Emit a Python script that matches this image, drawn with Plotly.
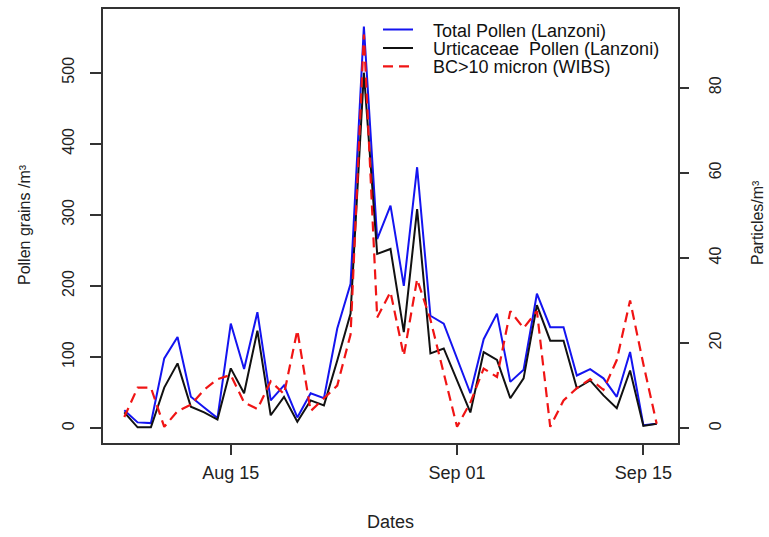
import plotly.graph_objects as go

# ---- data ----
dates = ["2015-08-07", "2015-08-08", "2015-08-09", "2015-08-10", "2015-08-11", "2015-08-12",
         "2015-08-13", "2015-08-14", "2015-08-15", "2015-08-16", "2015-08-17", "2015-08-18",
         "2015-08-19", "2015-08-20", "2015-08-21", "2015-08-22", "2015-08-23", "2015-08-24",
         "2015-08-25", "2015-08-26", "2015-08-27", "2015-08-28", "2015-08-29", "2015-08-30",
         "2015-08-31", "2015-09-01", "2015-09-02", "2015-09-03", "2015-09-04", "2015-09-05",
         "2015-09-06", "2015-09-07", "2015-09-08", "2015-09-09", "2015-09-10", "2015-09-11",
         "2015-09-12", "2015-09-13", "2015-09-14", "2015-09-15", "2015-09-16"]

total_pollen = [25, 8, 7, 98, 128, 44, 29, 14, 147, 83, 163, 39, 60, 15, 49, 42, 140, 203,
                565, 266, 313, 200, 367, 158, 147, 98, 49, 125, 161, 65, 82, 189, 142, 142,
                74, 83, 70, 44, 107, 4, 6]

urticaceae_pollen = [22, 1, 1, 57, 91, 30, 22, 12, 84, 49, 137, 18, 44, 9, 39, 32, 95, 161,
                     500, 245, 252, 135, 308, 105, 112, 67, 22, 107, 96, 42, 70, 173, 123, 123,
                     56, 67, 46, 28, 81, 3, 6]

bc_wibs = [2.6, 9.5, 9.5, 0.3, 4, 5.5, 9, 11.5, 12.5, 6, 4.5, 11, 8, 23, 4, 7, 10, 22,
           92.5, 26, 32, 17, 35, 25.5, 13, 0.3, 6, 14, 12, 27.5, 23.5, 27.5, 0.3, 6.5,
           9.4, 11.5, 9, 16, 30, 15, 1]

names = ["Total Pollen (Lanzoni)", "Urticaceae\u00a0 Pollen (Lanzoni)", "BC>10 micron (WIBS)"]

x_tickvals = ["2015-08-15", "2015-09-01", "2015-09-15"]
x_ticktext = ["Aug 15", "Sep 01", "Sep 15"]
y_left_ticks = [0, 100, 200, 300, 400, 500]
y_right_ticks = [0, 20, 40, 60, 80]

# ---- figure ----
FONT = "Liberation Sans, Arial, sans-serif"
W, H = 769, 537
ML, MR, MT, MB = 103, 91, 7, 94
pw, ph = W - ML - MR, H - MT - MB

def px_x(p):
    return (p - ML) / pw

def px_y(p):
    return (H - MB - p) / ph

PAD = "\u00a0\u00a0\u00a0"

fig = go.Figure()
fig.add_trace(go.Scatter(x=dates, y=total_pollen, mode="lines", name=PAD + names[0],
                         line=dict(color="#1414f0", width=2), legend="legend"))
fig.add_trace(go.Scatter(x=dates, y=urticaceae_pollen, mode="lines", name=PAD + names[1],
                         line=dict(color="#111111", width=2), legend="legend2"))
fig.add_trace(go.Scatter(x=dates, y=bc_wibs, mode="lines", name=PAD + names[2], yaxis="y2",
                         line=dict(color="#f01414", width=2.2, dash="10px,6px"),
                         legend="legend3"))

leg_common = dict(x=px_x(378), xanchor="left", yanchor="middle", bgcolor="rgba(0,0,0,0)",
                  borderwidth=0, font=dict(family=FONT, size=18, color="#111"),
                  itemwidth=30)

hfont = dict(family=FONT, size=18, color="#222")   # horizontal texts
vfont = dict(family=FONT, size=16, color="#222")   # rotated texts

fig.update_layout(
    width=W, height=H,
    margin=dict(l=ML, r=MR, t=MT, b=MB),
    paper_bgcolor="white", plot_bgcolor="white",
    showlegend=True,
    legend=dict(y=px_y(28), **leg_common),
    legend2=dict(y=px_y(46.5), **leg_common),
    legend3=dict(y=px_y(65), **leg_common),
    xaxis=dict(type="date",
               range=["2015-08-05 09:36", "2015-09-17 14:24"],
               tickmode="array", tickvals=x_tickvals, ticktext=x_ticktext,
               ticks="outside", ticklen=10, tickwidth=1.5, tickcolor="#333",
               showline=True, linecolor="#333", linewidth=1.5, mirror=True,
               showgrid=False, zeroline=False, tickfont=hfont,
               ticklabelstandoff=3),
    yaxis=dict(range=[-21, 589.6], tickmode="array", tickvals=y_left_ticks,
               ticks="outside", ticklen=11, tickwidth=1.5, tickcolor="#333",
               showline=True, linecolor="#333", linewidth=1.5, mirror=True,
               showgrid=False, zeroline=False, tickangle=-90, tickfont=vfont,
               ticklabelstandoff=10),
    yaxis2=dict(range=[-3.5, 98.5], tickmode="array", tickvals=y_right_ticks,
                overlaying="y", side="right",
                ticks="outside", ticklen=10, tickwidth=1.5, tickcolor="#333",
                showline=False, showgrid=False, zeroline=False, tickangle=-90,
                tickfont=vfont, ticklabelstandoff=13),
    annotations=[
        dict(text="Pollen grains /m³", xref="paper", yref="paper", x=px_x(24),
             y=px_y(224), textangle=-90, showarrow=False, font=vfont,
             xanchor="center", yanchor="middle"),
        dict(text="Particles/m³", xref="paper", yref="paper", x=px_x(757),
             y=px_y(222), textangle=-90, showarrow=False, font=vfont,
             xanchor="center", yanchor="middle"),
        dict(text="Dates", xref="paper", yref="paper", x=px_x(390),
             y=px_y(522), showarrow=False, font=hfont,
             xanchor="center", yanchor="middle"),
    ],
)

fig.write_html("out.html", config={"displayModeBar": False},
               post_script="document.body.style.margin='0';")
